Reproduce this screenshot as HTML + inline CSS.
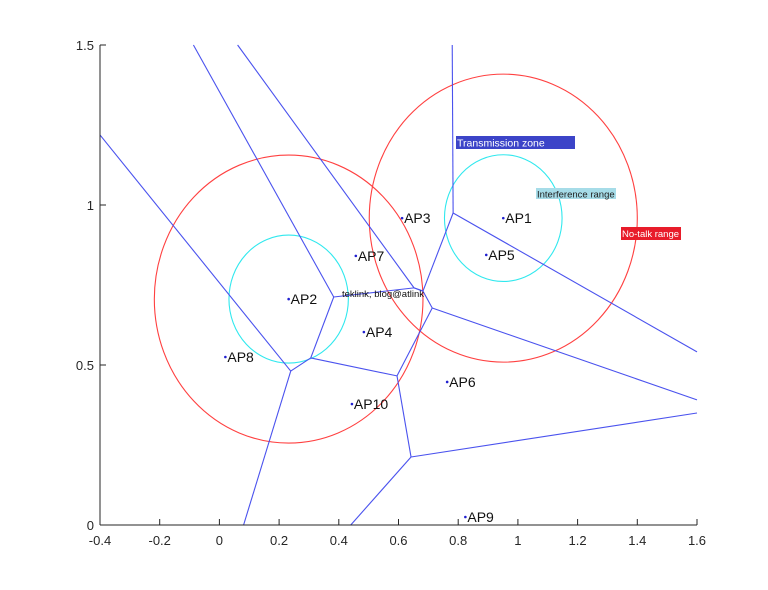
<!DOCTYPE html>
<html><head><meta charset="utf-8"><style>
body{margin:0;background:#fff;font-family:"Liberation Sans",Arial,sans-serif}
svg{display:block}
</style></head><body>
<svg id="chart" width="768" height="590" viewBox="0 0 768 590" xmlns="http://www.w3.org/2000/svg" font-family="Liberation Sans, Arial, sans-serif">
<g id="plot"></g>
</svg>
<script>
const apNames=["AP1","AP2","AP3","AP4","AP5","AP6","AP7","AP8","AP9","AP10"];
const apX=[0.951,0.232,0.612,0.484,0.894,0.763,0.457,0.02,0.824,0.444];
const apY=[0.959,0.706,0.959,0.603,0.844,0.447,0.841,0.525,0.025,0.378];
// voronoi edges: x1,y1,x2,y2
const edgeX1=[0.783,0.783,0.783,0.682,0.652,0.383,0.383,0.682,0.713,0.713,0.595,0.595,0.642,0.642,0.306,0.306,0.239,0.239,0.652];
const edgeY1=[0.975,0.975,0.975,0.731,0.741,0.7125,0.7125,0.731,0.678,0.678,0.466,0.466,0.2125,0.2125,0.522,0.522,0.481,0.481,0.741];
const edgeX2=[0.780,1.6,0.682,0.713,0.061,0.652,-0.087,0.652,1.6,0.595,0.642,0.306,1.6,0.44,0.383,0.239,-0.4,0.081,0.682];
const edgeY2=[1.5,0.541,0.731,0.678,1.5,0.741,1.5,0.741,0.391,0.466,0.2125,0.522,0.35,0,0.7125,0.481,1.219,0,0.731];
const circCx=[0.232,0.232,0.951,0.951];
const circCy=[0.706,0.706,0.959,0.959];
const circRx=[0.45,0.2,0.449,0.197];
const circRy=[0.45,0.2,0.45,0.198];
const circColor=["#ff4040","#30e8ee","#ff4040","#30e8ee"];
const xTicks=[-0.4,-0.2,0,0.2,0.4,0.6,0.8,1,1.2,1.4,1.6];
const xTickLabels=["-0.4","-0.2","0","0.2","0.4","0.6","0.8","1","1.2","1.4","1.6"];
const yTicks=[0,0.5,1,1.5];
const yTickLabels=["0","0.5","1","1.5"];
const X0=100,X1=697,Y0=525,Y1=45;
const sx=v=>X0+(v+0.4)/2*(X1-X0);
const sy=v=>Y0-v/1.5*(Y0-Y1);
const NS="http://www.w3.org/2000/svg";
const g=document.getElementById('plot');
function mk(t,a,p){const e=document.createElementNS(NS,t);for(const k in a)e.setAttribute(k,a[k]);(p||g).appendChild(e);return e;}
for(let i=0;i<circCx.length;i++){
 const e=mk('ellipse',{cx:sx(circCx[i]),cy:sy(circCy[i]),rx:circRx[i]*(X1-X0)/2,ry:circRy[i]*(Y0-Y1)/1.5,fill:'none',stroke:circColor[i],'stroke-width':1.1});
 
 
}
for(let i=0;i<edgeX1.length;i++){
 const e=mk('line',{x1:sx(edgeX1[i]),y1:sy(edgeY1[i]),x2:sx(edgeX2[i]),y2:sy(edgeY2[i]),stroke:'#4a52ee','stroke-width':1.1});
 
 
}
const ax=mk('line',{x1:X0,y1:Y0,x2:X1,y2:Y0,stroke:'#262626','stroke-width':1});


const ay=mk('line',{x1:X0,y1:Y0,x2:X0,y2:Y1,stroke:'#262626','stroke-width':1});


xTicks.forEach((v,i)=>{
 const t=mk('line',{x1:sx(v),y1:Y0,x2:sx(v),y2:Y0-6,stroke:'#262626'});
 
 
 const l=mk('text',{x:sx(v),y:Y0+20,'text-anchor':'middle','font-size':13,fill:'#262626'});
 l.textContent=xTickLabels[i];
 
 
});
yTicks.forEach((v,i)=>{
 const t=mk('line',{x1:X0,y1:sy(v),x2:X0+6,y2:sy(v),stroke:'#262626'});
 
 
 const l=mk('text',{x:X0-6,y:sy(v)+5,'text-anchor':'end','font-size':13,fill:'#262626'});
 l.textContent=yTickLabels[i];
 
 
});
apNames.forEach((n,i)=>{
 const c=mk('circle',{cx:sx(apX[i]),cy:sy(apY[i]),r:1.3,fill:'#2020d0'});
 
 
 const t=mk('text',{x:sx(apX[i])+2,y:sy(apY[i])+5,'font-size':14,fill:'#111'});
 t.textContent=n;
 
 
});
</script>
<svg style="position:absolute;left:0;top:0" width="768" height="590" xmlns="http://www.w3.org/2000/svg" font-family="Liberation Sans, Arial, sans-serif">
<g>
<rect x="456" y="136" width="119" height="13" fill="#3c44c8"/>
<text x="457" y="146.5" font-size="10.5" fill="#fff">Transmission zone</text></g>
<g>
<rect x="536" y="188" width="80" height="11" fill="#a6dce8"/>
<text x="537" y="197.5" font-size="9.5" fill="#222">Interference range</text></g>
<g>
<rect x="621" y="227" width="60" height="13" fill="#e81c2a"/>
<text x="622" y="237" font-size="9.5" fill="#fff">No-talk range</text></g>
<text x="342" y="297" font-size="9.5" fill="#111">teklink, blog@atlink</text>
</svg>
</body></html>
